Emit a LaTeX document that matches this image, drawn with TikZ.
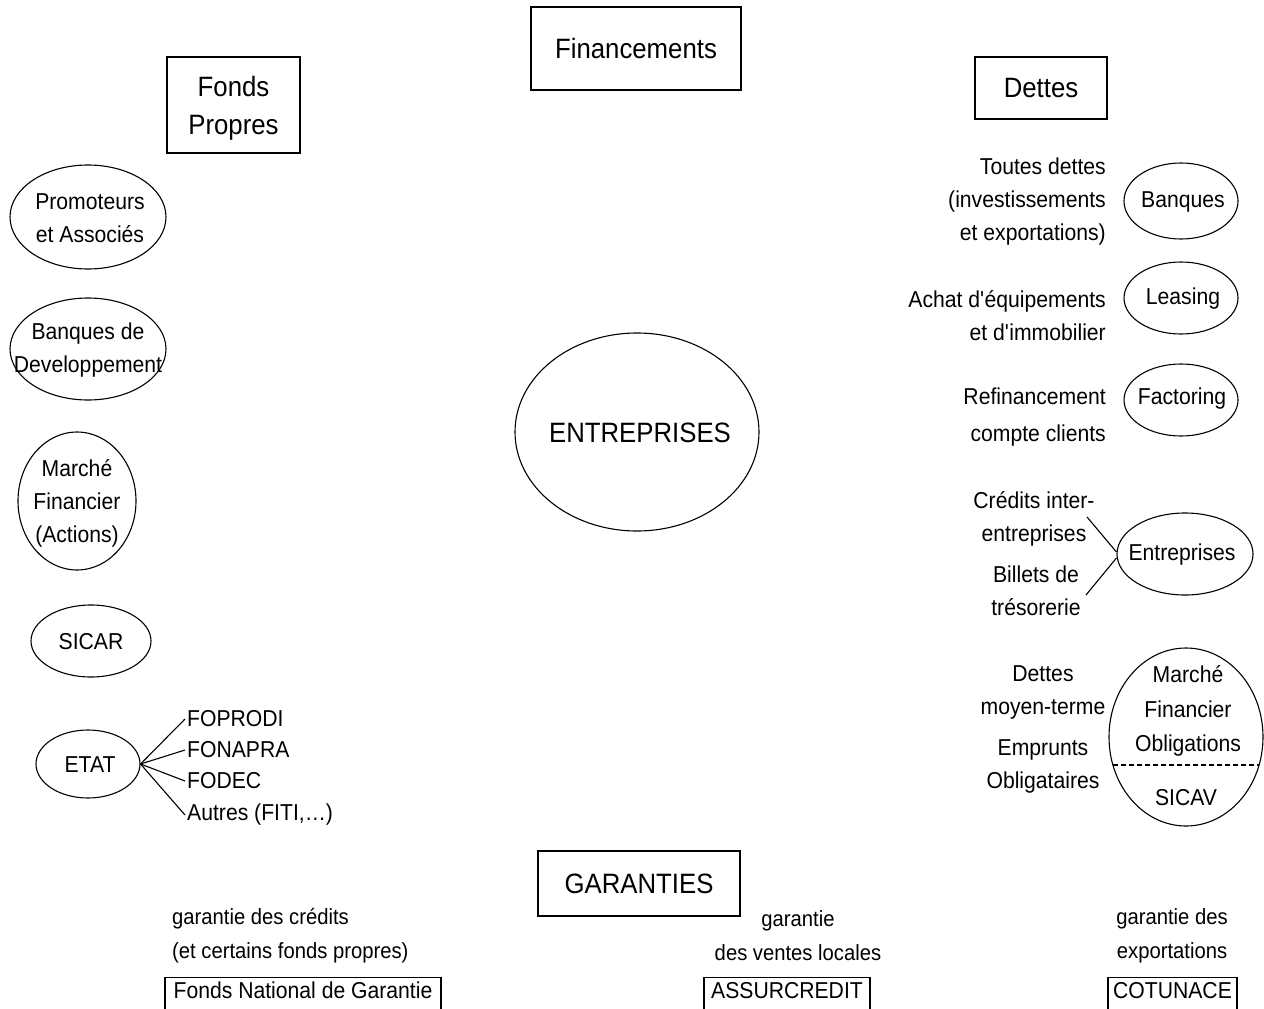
\documentclass[tikz,border=0pt]{standalone}
\usepackage{fontspec}
\setmainfont{Liberation Sans}[FakeStretch=0.92]
\usetikzlibrary{shapes.geometric,calc}
\tikzset{
  txt/.style={font=\fontsize{23}{33}\selectfont, align=center, inner sep=0pt},
  captxt/.style={font=\fontsize{22}{34}\selectfont, align=center, inner sep=0pt},
  bigtxt/.style={font=\fontsize{28}{38}\selectfont, align=center, inner sep=0pt},
  titlebox/.style={draw, line width=1.2pt, rectangle, inner sep=0pt},
  oval/.style={draw, ellipse, line width=1.1pt, inner sep=0pt},
  lowbox/.style={draw, line width=1.1pt, rectangle, anchor=north, inner xsep=0pt, inner ysep=4pt,
    text height=17pt, text depth=30pt, font=\fontsize{23}{25}\selectfont},
  conn/.style={line width=1.1pt},
}
\begin{document}
\begin{tikzpicture}[x=1pt,y=-1pt]
\clip (0,0) rectangle (1264,1009);
\fill[white] (0,0) rectangle (1264,1009);

% title boxes
\node[titlebox, bigtxt, minimum width=210pt, minimum height=83pt] (fin) at (636,48.5) {Financements};
\node[titlebox, minimum width=133pt, minimum height=96pt] (fpbox) at (233.5,105) {};
\node[bigtxt] (fp) at (233.5,108) {Fonds\\Propres};
\node[titlebox, bigtxt, minimum width=132pt, minimum height=62pt] (dettes) at (1041,88) {Dettes};
\node[titlebox, bigtxt, minimum width=202pt, minimum height=65pt] (gar) at (639,883.5) {GARANTIES};

% central
\node[oval, minimum width=244pt, minimum height=198pt] (ent) at (637,432) {};
\node[bigtxt] (entt) at (640,433) {ENTREPRISES};

% left column
\node[oval, minimum width=156pt, minimum height=104pt] (promo) at (88,217) {};
\node[txt] (promot) at (90,218) {Promoteurs\\et Associés};
\node[oval, minimum width=156pt, minimum height=102pt] (bdd) at (88,349) {};
\node[txt] (bddt) at (88,350) {Banques de\\Developpement};
\node[oval, minimum width=118pt, minimum height=138pt] (mfa) at (77,501) {};
\node[txt] (mfat) at (77,503) {Marché\\Financier\\(Actions)};
\node[oval, minimum width=120pt, minimum height=72pt] (sicar) at (91,641) {};
\node[txt] (sicart) at (91,642) {SICAR};
\node[oval, minimum width=104pt, minimum height=68pt] (etat) at (88,764) {};
\node[txt] (etatt) at (90,765) {ETAT};
\node[txt, anchor=west, inner xsep=2pt] (foprodi) at (185,719) {FOPRODI};
\node[txt, anchor=west, inner xsep=2pt] (fonapra) at (185,750) {FONAPRA};
\node[txt, anchor=west, inner xsep=2pt] (fodec) at (185,781) {FODEC};
\node[txt, anchor=west, inner xsep=2pt] (autres) at (185,815) {Autres (FITI,\dots)};
\draw[conn] (etat.east) -- (foprodi.west);
\draw[conn] (etat.east) -- (fonapra.west);
\draw[conn] (etat.east) -- (fodec.west);
\draw[conn] (etat.east) -- (autres.west);

% right column
\node[oval, minimum width=114pt, minimum height=76pt] (banq) at (1181,201) {};
\node[txt] (banqt) at (1183,202) {Banques};
\node[txt, anchor=east, align=right] (toutes) at (1106,202) {Toutes dettes\\(investissements\\et exportations)};
\node[oval, minimum width=114pt, minimum height=72pt] (leas) at (1181,298) {};
\node[txt] (least) at (1183,299) {Leasing};
\node[txt, anchor=east, align=right] (achat) at (1106,316) {Achat d\textquotesingle équipements\\et d\textquotesingle immobilier};
\node[oval, minimum width=114pt, minimum height=72pt] (fact) at (1181,400) {};
\node[txt] (factt) at (1182,399) {Factoring};
\node[txt, anchor=east, align=right, font=\fontsize{23}{37}\selectfont] (refi) at (1106,417) {Refinancement\\compte clients};

\node[oval, minimum width=136pt, minimum height=82pt] (entr) at (1185,554) {};
\node[txt] (entrt) at (1182,555) {Entreprises};
\node[txt] (credits) at (1034,519) {Crédits inter-\\entreprises};
\node[txt] (billets) at (1036,591) {Billets de\\trésorerie};
\coordinate (c1) at (1087,517);
\coordinate (c2) at (1086,595);
\draw[conn] (c1) -- ($(entr.west)+(0,-2)$);
\draw[conn] ($(entr.west)+(0,4)$) -- (c2);

\node[oval, minimum width=154pt, minimum height=178pt] (mfo) at (1186,737) {};
\node[txt, font=\fontsize{23}{34.5}\selectfont] (mfot) at (1188,711) {Marché\\Financier\\Obligations};
\node[txt] (sicav) at (1186,798) {SICAV};
\draw[conn, dash pattern=on 5pt off 3pt] ($(mfo.center)+(-73.1,28)$) -- ($(mfo.center)+(73.1,28)$);
\node[txt] (dmt) at (1043,692) {Dettes\\moyen-terme};
\node[txt] (emp) at (1043,766) {Emprunts\\Obligataires};

% guarantees
\node[captxt, anchor=west, align=left] (gc) at (172,936) {garantie des crédits\\(et certains fonds propres)};
\node[captxt] (gv) at (798,936) {garantie\\des ventes locales};
\node[captxt] (ge) at (1172,936) {garantie des\\exportations};
\node[lowbox, minimum width=276pt] (fng) at (303,977) {Fonds National de Garantie};
\node[lowbox, minimum width=166pt] (assur) at (787,977) {ASSURCREDIT};
\node[lowbox, minimum width=129pt] (cotu) at (1172.5,977) {COTUNACE};
\end{tikzpicture}
\end{document}
